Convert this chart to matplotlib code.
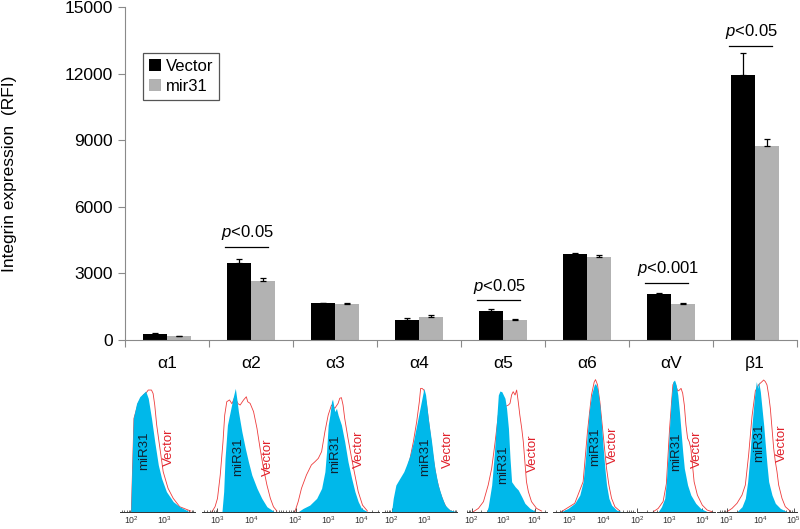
import numpy as np
import matplotlib
matplotlib.use('Agg')
import matplotlib.pyplot as plt
from matplotlib.ticker import LogLocator, NullFormatter, LogFormatterSciNotation

plt.rcParams['font.family'] = ['Liberation Sans', 'DejaVu Sans']
plt.rcParams['mathtext.fontset'] = 'custom'
plt.rcParams['mathtext.rm'] = 'Liberation Sans'
plt.rcParams['mathtext.it'] = 'Liberation Sans:italic'

# ---------------- bar chart data ----------------
categories = ['α1', 'α2', 'α3', 'α4', 'α5', 'α6', 'αV', 'β1']
vector_mean = [260, 3450, 1650, 900, 1320, 3870, 2060, 11920]
vector_err = [40, 180, 30, 80, 90, 30, 40, 990]
mir31_mean = [170, 2660, 1620, 1035, 885, 3750, 1610, 8740]
mir31_err = [20, 120, 30, 70, 45, 100, 40, 300]
y_ticks = [0, 3000, 6000, 9000, 12000, 15000]
sig_index = [1, 4, 6, 7]
sig_line = [4200, 1800, 2580, 13260]
sig_text = ['$p$<0.05', '$p$<0.05', '$p$<0.001', '$p$<0.05']

# ---------------- flow histogram data (log10 intensity, % of max) ----------------
mir31_logx = [
    [1.97, 2.00, 2.05, 2.15, 2.25, 2.36, 2.43, 2.51, 2.61, 2.71, 2.82, 2.92, 3.07, 3.28, 3.48, 3.74],
    [3.13, 3.18, 3.22, 3.29, 3.37, 3.45, 3.52, 3.56, 3.61, 3.71, 3.81, 3.90, 4.00, 4.15, 4.29, 4.44, 4.63],
    [2.07, 2.22, 2.42, 2.63, 2.78, 2.88, 2.93, 2.98, 3.03, 3.08, 3.11, 3.18, 3.23, 3.28, 3.38, 3.48, 3.58, 3.69, 3.79, 3.89, 3.99, 4.14],
    [1.99, 2.04, 2.12, 2.24, 2.36, 2.44, 2.55, 2.65, 2.75, 2.85, 2.93, 2.97, 3.02, 3.10, 3.20, 3.30, 3.40, 3.51, 3.61, 3.76, 3.96],
    [2.47, 2.52, 2.63, 2.71, 2.79, 2.84, 2.89, 2.95, 3.00, 3.05, 3.10, 3.16, 3.21, 3.26, 3.37, 3.47, 3.58, 3.68, 3.84, 4.00],
    [2.75, 2.95, 3.15, 3.30, 3.40, 3.47, 3.53, 3.58, 3.65, 3.73, 3.77, 3.83, 3.90, 3.95, 4.00, 4.05, 4.10, 4.17, 4.25, 4.40, 4.55],
    [2.65, 2.75, 2.85, 2.90, 2.95, 3.00, 3.05, 3.10, 3.15, 3.20, 3.25, 3.30, 3.35, 3.40, 3.45, 3.55, 3.65, 3.80, 3.95, 4.15],
    [3.30, 3.45, 3.55, 3.62, 3.68, 3.75, 3.82, 3.88, 3.92, 3.95, 4.00, 4.05, 4.10, 4.15, 4.20, 4.25, 4.35, 4.45, 4.60, 4.80],
]
mir31_count = [
    [0, 28.9, 73.5, 85.3, 90.6, 93.2, 95.0, 89.3, 73.5, 55.1, 36.8, 26.3, 15.8, 7.9, 3.9, 0.5],
    [0, 15.8, 42.0, 68.3, 78.8, 89.3, 97.1, 89.3, 78.8, 63.0, 49.9, 39.4, 28.9, 18.4, 10.5, 3.9, 0.5],
    [0, 2.6, 5.2, 10.5, 18.4, 31.5, 47.3, 68.3, 76.1, 86.6, 88.7, 78.8, 81.4, 76.1, 68.3, 55.1, 39.4, 26.3, 15.8, 7.9, 2.6, 0.5],
    [0, 10.5, 21.0, 26.3, 31.5, 36.8, 44.6, 55.1, 68.3, 81.4, 91.9, 97.1, 91.9, 73.5, 55.1, 34.1, 21.0, 11.8, 5.2, 1.3, 0],
    [0, 3.9, 21.0, 44.6, 73.5, 91.9, 95.0, 94.5, 91.9, 89.3, 81.4, 65.6, 42.0, 23.6, 19.7, 17.1, 11.8, 6.6, 2.6, 0.5],
    [0, 2.6, 6.6, 13.1, 23.6, 42.0, 63.0, 78.8, 91.9, 99.8, 101.0, 97.1, 84.0, 68.3, 49.9, 34.1, 21.0, 10.5, 5.2, 1.3, 0],
    [0, 3.9, 10.5, 23.6, 44.6, 68.3, 89.3, 102.4, 103.7, 99.8, 91.9, 78.8, 63.0, 47.3, 34.1, 21.0, 13.1, 6.6, 2.6, 0],
    [0, 3.9, 10.5, 23.6, 42.0, 68.3, 89.3, 102.4, 97.1, 102.4, 94.5, 81.4, 68.3, 52.5, 36.8, 23.6, 13.1, 6.6, 2.6, 0],
]
vector_logx = [
    [1.99, 2.07, 2.20, 2.36, 2.46, 2.51, 2.61, 2.66, 2.71, 2.77, 2.87, 2.97, 3.12, 3.28, 3.48, 3.82],
    [2.84, 2.93, 3.00, 3.08, 3.16, 3.21, 3.27, 3.35, 3.42, 3.50, 3.60, 3.66, 3.76, 3.84, 3.88, 3.95, 4.05, 4.15, 4.24, 4.34, 4.44, 4.54, 4.63, 4.73],
    [1.97, 2.07, 2.17, 2.32, 2.47, 2.58, 2.68, 2.78, 2.88, 2.98, 3.08, 3.18, 3.28, 3.33, 3.38, 3.43, 3.48, 3.58, 3.69, 3.79, 3.89, 4.02, 4.17],
    [2.04, 2.09, 2.14, 2.24, 2.34, 2.44, 2.55, 2.65, 2.75, 2.83, 2.87, 2.91, 2.97, 3.05, 3.15, 3.25, 3.35, 3.45, 3.56, 3.66, 3.81],
    [2.05, 2.21, 2.37, 2.52, 2.63, 2.74, 2.84, 3.05, 3.16, 3.21, 3.26, 3.31, 3.37, 3.42, 3.47, 3.52, 3.58, 3.63, 3.68, 3.73, 3.79, 3.89, 4.05, 4.21],
    [2.75, 3.15, 3.40, 3.53, 3.65, 3.73, 3.77, 3.83, 3.90, 4.00, 4.10, 4.17, 4.25, 4.35, 4.50],
    [2.50, 2.65, 2.80, 2.90, 3.00, 3.10, 3.15, 3.25, 3.30, 3.35, 3.40, 3.45, 3.50, 3.55, 3.60, 3.65, 3.70, 3.75, 3.85, 4.00, 4.15, 4.30],
    [3.00, 3.15, 3.30, 3.45, 3.55, 3.65, 3.75, 3.85, 3.95, 4.05, 4.10, 4.15, 4.20, 4.25, 4.30, 4.35, 4.40, 4.45, 4.50, 4.55, 4.65, 4.75, 4.90],
]
vector_count = [
    [0, 73.5, 85.3, 92.0, 94.0, 95.8, 95.8, 93.0, 84.0, 68.3, 49.9, 31.5, 18.4, 10.5, 3.9, 0.5],
    [0, 4.0, 10.5, 28.9, 55.0, 76.0, 86.6, 88.0, 85.0, 90.0, 85.0, 84.0, 88.0, 90.5, 86.6, 85.3, 78.8, 65.6, 49.9, 34.1, 21.0, 10.5, 3.9, 0.5],
    [0, 7.9, 18.4, 28.9, 36.8, 39.4, 42.0, 47.3, 63.0, 76.1, 84.0, 81.4, 85.3, 89.3, 89.8, 84.0, 73.5, 57.8, 42.0, 28.9, 15.8, 5.2, 0.5],
    [0, 7.9, 14.4, 18.4, 23.6, 31.5, 42.0, 55.1, 70.9, 86.6, 97.1, 97.1, 95.8, 84.0, 63.0, 42.0, 26.3, 15.8, 7.9, 2.6, 0],
    [0, 2.6, 7.9, 21.0, 34.1, 55.1, 76.1, 82.7, 84.0, 85.3, 91.9, 94.5, 91.9, 95.8, 86.6, 76.1, 65.6, 55.1, 39.4, 23.6, 15.8, 7.9, 2.6, 0.5],
    [0, 6.6, 23.6, 63.0, 91.9, 102.0, 104.0, 100.0, 86.6, 60.4, 34.1, 21.0, 10.5, 3.9, 0.5],
    [0, 2.6, 8.0, 22.0, 66.0, 100.0, 102.0, 95.0, 95.8, 97.1, 93.2, 84.0, 68.3, 57.8, 55.1, 49.9, 36.8, 23.6, 13.1, 5.2, 1.3, 0],
    [0, 2.6, 6.6, 13.1, 21.0, 45.0, 75.0, 95.0, 100.0, 102.4, 103.7, 102.4, 99.8, 91.9, 81.4, 65.6, 49.9, 39.4, 31.5, 21.0, 10.5, 3.9, 0.5],
]

# ---------------- figure ----------------
W, H = 800, 529
fig = plt.figure(figsize=(8, 5.29), dpi=100)

ax_left, ax_right, ax_top, ax_bottom = 125, 797, 7, 340
ax = fig.add_axes([ax_left / W, 1 - ax_bottom / H, (ax_right - ax_left) / W, (ax_bottom - ax_top) / H])

n = len(categories)
centers = np.arange(n) + 0.5
bw = 0.2857
axis_grey = '#8a8a8a'
ekw = dict(ecolor='black', elinewidth=0.9, capsize=2.2, capthick=0.9)
ax.bar(centers - bw / 2, vector_mean, bw, color='black', label='Vector', zorder=2,
       yerr=[np.zeros(n), vector_err], error_kw=ekw)
ax.bar(centers + bw / 2, mir31_mean, bw, color='#b2b2b2', label='mir31', zorder=2,
       yerr=[np.zeros(n), mir31_err], error_kw=ekw)

ax.set_xlim(0, n)
ax.set_ylim(0, 15000)
ax.set_yticks(y_ticks)
ax.set_yticklabels([str(v) for v in y_ticks], fontsize=12.5)
ax.set_xticks(np.arange(n + 1))
ax.set_xticklabels([])
ax.tick_params(axis='both', direction='out', length=5, color=axis_grey, width=0.8)
ax.tick_params(axis='y', pad=4)
for s in ['top', 'right']:
    ax.spines[s].set_visible(False)
for s in ['left', 'bottom']:
    ax.spines[s].set_color(axis_grey)
    ax.spines[s].set_linewidth(0.8)

for c, lab in zip(centers, categories):
    ax.text(c, -0.072, lab, transform=ax.get_xaxis_transform(), ha='center', va='center', fontsize=12.5)

ax.set_ylabel('Integrin expression  (RFI)', fontsize=12.5)
ax.yaxis.set_label_coords(-0.16, 0.5)

for i, yl, t in zip(sig_index, sig_line, sig_text):
    c = centers[i]
    ax.plot([c - 0.31, c + 0.2], [yl, yl], color='black', lw=0.9, zorder=3)
    ax.text(c - 0.04, yl + 620, t, ha='center', va='center', fontsize=12)

leg = ax.legend(loc='upper left', bbox_to_anchor=(0.0268, 0.862), borderaxespad=0,
                fontsize=12, handlelength=0.7, handleheight=0.7, handletextpad=0.3,
                labelspacing=0.3, borderpad=0.35, fancybox=False, framealpha=1)
leg.get_frame().set_edgecolor('#555555')
leg.get_frame().set_linewidth(0.9)

# ---------------- flow histograms ----------------
panel_px = [(120, 195), (201.7, 281.7), (281.7, 379), (382, 457),
            (466.7, 546.7), (553, 635), (637, 715), (717, 797)]
panel_log = [(1.64, 3.95), (2.54, 4.87), (1.57, 4.52), (1.70, 3.97),
             (1.84, 4.37), (2.5, 4.95), (2.0, 4.39), (2.7, 5.1)]
mir_label_pos = [(2.39, 48), (3.59, 43), (3.18, 46), (3.00, 43),
                 (3.00, 37), (3.75, 51), (3.20, 47), (3.95, 54)]
vec_label_pos = [(3.15, 51), (4.46, 43), (3.91, 49), (3.71, 49),
                 (3.94, 46), (4.30, 52), (3.85, 49), (4.65, 54)]

base_px = 511.7
ymax = 105
hpx = 127 * ymax / 100
cyan = '#00b8ea'
red = '#ee3b3b'
for k in range(8):
    x0, x1 = panel_px[k]
    axh = fig.add_axes([x0 / W, 1 - base_px / H, (x1 - x0) / W, hpx / H])
    axh.set_xscale('log')
    axh.set_xlim(10 ** panel_log[k][0], 10 ** panel_log[k][1])
    axh.set_ylim(0, ymax)
    vx = 10 ** np.array(vector_logx[k])
    mx = 10 ** np.array(mir31_logx[k])
    axh.plot(vx, vector_count[k], color=red, lw=0.6, zorder=1)
    axh.fill_between(mx, mir31_count[k], 0, color=cyan, lw=0, zorder=2)
    axh.text(10 ** mir_label_pos[k][0], mir_label_pos[k][1], 'miR31', rotation=90,
             ha='center', va='center', fontsize=9.5, color='#102030', zorder=3)
    axh.text(10 ** vec_label_pos[k][0], vec_label_pos[k][1], 'Vector', rotation=90,
             ha='center', va='center', fontsize=9.5, color='#e0202a', zorder=3)
    for s in ['top', 'right', 'left']:
        axh.spines[s].set_visible(False)
    axh.spines['bottom'].set_color('#333333')
    axh.spines['bottom'].set_linewidth(0.7)
    axh.set_yticks([])
    axh.xaxis.set_major_locator(LogLocator(base=10))
    axh.xaxis.set_minor_locator(LogLocator(base=10, subs=np.arange(2, 10)))
    axh.xaxis.set_major_formatter(LogFormatterSciNotation())
    axh.xaxis.set_minor_formatter(NullFormatter())
    axh.tick_params(axis='x', which='major', direction='in', length=3, width=0.6,
                    color='#333333', labelsize=6.3, labelcolor='#333333', pad=2)
    axh.tick_params(axis='x', which='minor', direction='in', length=1.6, width=0.5, color='#333333')
    axh.patch.set_alpha(0)

fig.savefig('out.png', dpi=100)
